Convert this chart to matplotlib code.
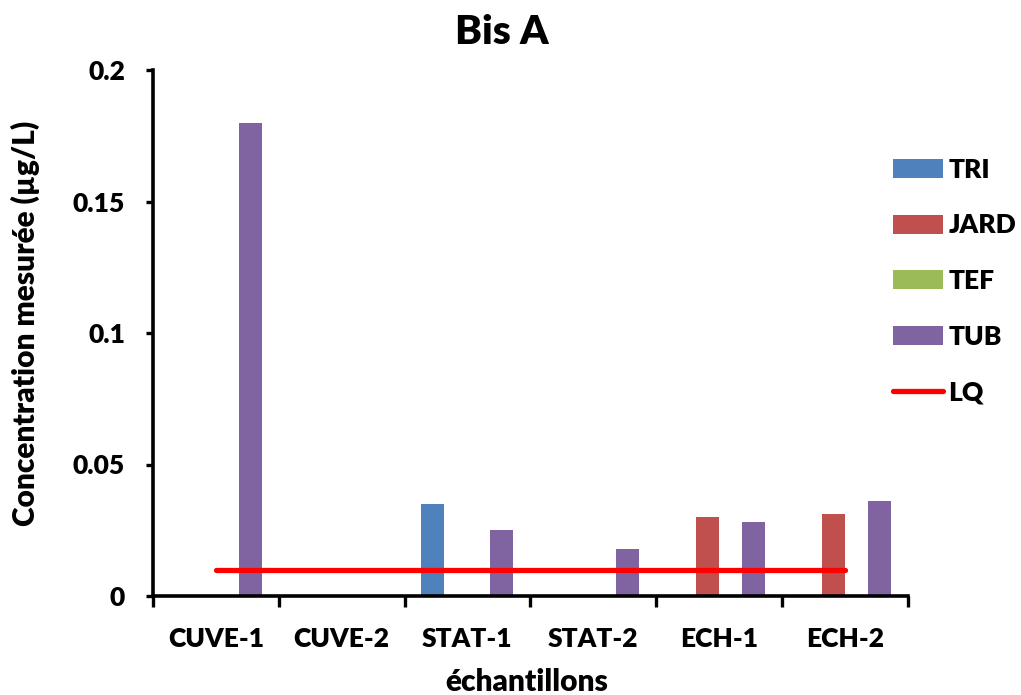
import matplotlib
matplotlib.use("Agg")
import matplotlib.pyplot as plt
import numpy as np

categories = ["CUVE-1", "CUVE-2", "STAT-1", "STAT-2", "ECH-1", "ECH-2"]
series_names = ["TRI", "JARD", "TEF", "TUB"]
tri = [0, 0, 0.035, 0, 0, 0]
jard = [0, 0, 0, 0, 0.030, 0.031]
tef = [0, 0, 0, 0, 0, 0]
tub = [0.18, 0, 0.025, 0.018, 0.028, 0.036]
lq = [0.01, 0.01, 0.01, 0.01, 0.01, 0.01]
yticks = [0, 0.05, 0.1, 0.15, 0.2]
ytick_labels = ["0", "0.05", "0.1", "0.15", "0.2"]
colors = ["#4F81BD", "#C0504D", "#9BBB59", "#8064A2"]

plt.rcParams['font.family'] = ['Lato', 'DejaVu Sans']
W = 'heavy'

fig = plt.figure(figsize=(10.21, 6.95), dpi=100)
ax = fig.add_axes([153/1021, 1-596/695, (907.5-153)/1021, (596-70)/695])

x = np.arange(len(categories))
w = 0.183
data = [tri, jard, tef, tub]
handles = []
for i, (name, vals) in enumerate(zip(series_names, data)):
    b = ax.bar(x + (i - 1.5) * w, vals, width=w, color=colors[i], label=name, zorder=2)
    handles.append(b)
ln, = ax.plot(x, lq, color="#FF0000", lw=3.8, solid_capstyle='round', label="LQ", zorder=3)
handles.append(ln)

ax.set_xlim(-0.5, len(categories) - 0.5)
ax.set_ylim(0, 0.2)
ax.set_yticks(yticks)
ax.set_yticklabels(ytick_labels)
ax.set_xticks(x)
ax.set_xticklabels(categories)
ax.set_xticks(np.arange(-0.5, len(categories)), minor=True)
ax.tick_params(axis='x', which='major', length=0, pad=22, labelsize=19)
ax.tick_params(axis='x', which='minor', length=8, width=2.4, direction='out')
ax.tick_params(axis='y', which='major', length=5, width=2.4, direction='out', pad=15, labelsize=19)
for lab in ax.get_xticklabels() + ax.get_yticklabels():
    lab.set_fontweight(W)

for s in ['top', 'right']:
    ax.spines[s].set_visible(False)
for s in ['left', 'bottom']:
    ax.spines[s].set_linewidth(2.6)

fig.text(527/1021, 1-682/695, "échantillons", ha='center', va='center', fontsize=21.5, fontweight=W)
fig.text(25/1021, 1-323/695, "Concentration mesurée (µg/L)", rotation=90,
         ha='center', va='center', fontsize=21.5, fontweight=W)
fig.text(502/1021, 1-32/695, "Bis A", ha='center', va='center', fontsize=29, fontweight=W)

leg = fig.legend(handles=handles, labels=series_names + ["LQ"], loc='center left',
                 bbox_to_anchor=(893/1021, 1-281/695), frameon=False,
                 borderpad=0, borderaxespad=0, handlelength=1.9, handleheight=0.72,
                 handletextpad=0.2, labelspacing=1.2, prop={'size': 19, 'weight': W})

fig.savefig("out.png", dpi=100)
